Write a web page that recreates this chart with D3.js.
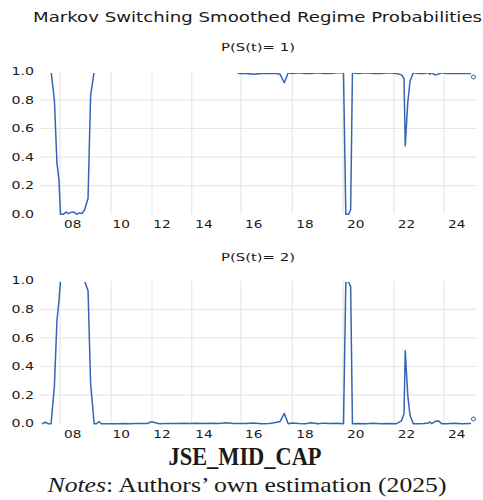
<!DOCTYPE html>
<html>
<head>
<meta charset="utf-8">
<script src="https://cdn.jsdelivr.net/npm/d3@7"></script>
<style>
  body { margin:0; background:#fff; }
  text { font-family:"DejaVu Sans", Verdana, sans-serif; fill:#1a1a1a; }
</style>
</head>
<body>
<svg id="chart"></svg>
<script>
var dates = [
  2007.30, 2007.43, 2007.53, 2007.65, 2007.78, 2007.88, 2007.96, 2008.02,
  2008.12, 2008.24, 2008.33, 2008.45, 2008.55, 2008.65, 2008.75, 2008.86, 2008.96, 2009.10, 2009.20, 2009.34,
  2009.43, 2009.53, 2009.62, 2009.80, 2010.00, 2010.30, 2010.60, 2010.90, 2011.20, 2011.50, 2011.80, 2011.93,
  2012.05, 2012.25, 2012.40, 2012.70, 2013.00, 2013.30, 2013.60, 2013.90, 2014.20, 2014.50, 2014.80, 2015.10,
  2015.40, 2015.70, 2015.95,
  2016.20, 2016.50, 2016.80, 2017.10, 2017.40, 2017.52, 2017.69, 2017.84, 2018.00, 2018.25, 2018.50, 2018.75,
  2019.00, 2019.25, 2019.50, 2019.75, 2020.02, 2020.11, 2020.21, 2020.30, 2020.37,
  2020.60, 2020.90, 2021.20, 2021.50, 2021.80, 2022.10, 2022.30, 2022.40, 2022.45, 2022.55, 2022.64, 2022.77,
  2023.00, 2023.20, 2023.37, 2023.44, 2023.51, 2023.64, 2023.77, 2023.91, 2024.10, 2024.40, 2024.70, 2025.05,
  2025.10, 2025.15
];
var regime1 = [
  1.00, 1.00, 1.00, 1.00, 0.80, 0.36, 0.24, 0.00,
  0.00, 0.015, 0.005, 0.015, 0.015, 0.00, 0.01, 0.005, 0.03, 0.11, 0.83, 1.00,
  1.00, 1.00, 1.00, 1.00, 1.00, 1.00, 1.00, 1.00, 1.00, 1.00, 1.00, 1.00,
  1.00, 1.00, 1.00, 1.00, 1.00, 1.00, 1.00, 0.993, 1.00, 0.993, 1.00, 1.00,
  0.993, 1.00, 0.985,
  0.985, 0.98, 0.985, 0.985, 0.985, 0.98, 0.92, 0.99, 0.985, 0.99, 0.985, 0.985,
  0.99, 0.985, 0.985, 0.99, 0.99, 0.00, 0.00, 0.03, 0.99,
  0.985, 0.99, 0.985, 0.985, 0.99, 0.985, 0.975, 0.95, 0.48, 0.78, 0.93, 0.99,
  0.985, 0.985, 0.99, 0.98, 0.99, 0.975, 0.98, 0.99, 0.985, 0.985, 0.985, 0.985,
  null, 0.96
];
var regime2 = [
  0.00, 0.01, 0.00, 0.00, 0.26, 0.72, 0.86, 1.00,
  1.00, 1.00, 1.00, 1.00, 1.00, 1.00, 1.00, 1.00, 1.00, 0.93, 0.28, 0.00,
  0.00, 0.015, 0.00, 0.00, 0.00, 0.00, 0.002, 0.00, 0.002, 0.002, 0.002, 0.012,
  0.012, 0.003, 0.00, 0.002, 0.002, 0.002, 0.004, 0.002, 0.003, 0.002, 0.004, 0.002,
  0.006, 0.002, 0.002,
  0.002, 0.005, 0.00, 0.002, 0.01, 0.015, 0.072, 0.00, 0.005, 0.002, 0.00, 0.006,
  0.00, 0.004, 0.002, 0.004, 0.00, 0.992, 0.992, 0.96, 0.00,
  0.002, 0.00, 0.003, 0.00, 0.002, 0.00, 0.02, 0.07, 0.51, 0.20, 0.06, 0.00,
  0.00, 0.002, 0.005, 0.012, 0.00, 0.015, 0.02, 0.00, 0.00, 0.003, 0.00, 0.002,
  null, 0.033
];
var yTicks = [0, 0.2, 0.4, 0.6, 0.8, 1.0];
var gridY = [0.2, 0.4, 0.6, 0.8];
var yearTicks = [2008, 2010, 2012, 2014, 2016, 2018, 2020, 2022, 2024];
var yearLabels = ["08", "10", "12", "14", "16", "18", "20", "22", "24"];

var width = 483, height = 500;
var svg = d3.select("#chart").attr("width", width).attr("height", height);

// the date axis is not evenly spaced (fewer observations 2010-2014)
var x = d3.scaleLinear()
  .domain([2007, 2008, 2010, 2012, 2014, 2016, 2018, 2020, 2022, 2024, 2025.25])
  .range([34.5, 60, 111, 152, 191.7, 241, 292.3, 343, 394, 444, 476]);
var plotLeft = 40, plotRight = 476;
var blue = "#3465b4";

function stretch(sel, k) {
  sel.each(function() {
    var len = this.getComputedTextLength();
    d3.select(this).attr("textLength", len * k).attr("lengthAdjust", "spacingAndGlyphs");
  });
}

svg.append("text")
  .attr("x", 257.5).attr("y", 22)
  .attr("text-anchor", "middle")
  .style("font-size", "13.5px")
  .attr("textLength", 449).attr("lengthAdjust", "spacingAndGlyphs")
  .text("Markov Switching Smoothed Regime Probabilities");

function panel(values, title, top, id) {
  var bottom = top + 143;
  var y = d3.scaleLinear().domain([0, 1]).range([bottom, top]);
  var g = svg.append("g");

  g.append("text")
    .attr("x", 258).attr("y", top - 20)
    .attr("text-anchor", "middle")
    .style("font-size", "11px")
    .text(title)
    .call(stretch, 1.35);

  g.selectAll(".hg").data(gridY).enter().append("line")
    .attr("x1", plotLeft).attr("x2", plotRight)
    .attr("y1", function(d) { return y(d); }).attr("y2", function(d) { return y(d); })
    .attr("stroke", "#e8e8e8").attr("stroke-width", 1.2);

  g.selectAll(".vg").data(yearTicks).enter().append("line")
    .attr("x1", function(d) { return x(d); }).attr("x2", function(d) { return x(d); })
    .attr("y1", top).attr("y2", bottom)
    .attr("stroke", "#e8e8e8").attr("stroke-width", 1.2);

  g.selectAll(".yl").data(yTicks).enter().append("text")
    .attr("x", 34).attr("y", function(d) { return y(d); })
    .attr("dy", "0.36em")
    .attr("text-anchor", "end")
    .style("font-size", "10.5px")
    .text(function(d) { return d3.format(".1f")(d); })
    .call(stretch, 1.35);

  g.selectAll(".xl").data(yearTicks).enter().append("text")
    .attr("x", function(d) { return x(d + 0.5); }).attr("y", bottom + 14)
    .attr("text-anchor", "middle")
    .style("font-size", "10.5px")
    .text(function(d, i) { return yearLabels[i]; })
    .call(stretch, 1.3);

  // the line is cut off at the top of the plot, as in the original
  var clipTop = Math.ceil(top + 0.75);
  svg.append("clipPath").attr("id", id)
    .append("rect")
    .attr("x", plotLeft).attr("y", clipTop)
    .attr("width", plotRight - plotLeft).attr("height", bottom + 8 - clipTop);

  var pts = dates.map(function(d, i) { return { t: d, v: values[i] }; });
  var line = d3.line()
    .defined(function(d) { return d.v != null; })
    .x(function(d) { return x(d.t); })
    .y(function(d) { return y(d.v); });

  g.append("path")
    .datum(pts)
    .attr("clip-path", "url(#" + id + ")")
    .attr("fill", "none")
    .attr("stroke", blue)
    .attr("stroke-width", 1.5)
    .attr("stroke-linejoin", "round")
    .attr("d", line);

  var lone = pts.filter(function(d, i) {
    if (d.v == null) return false;
    var prev = i > 0 ? pts[i - 1].v : null;
    var next = i < pts.length - 1 ? pts[i + 1].v : null;
    return prev == null && next == null;
  });
  g.selectAll(".lone").data(lone).enter().append("circle")
    .attr("cx", function(d) { return x(d.t); })
    .attr("cy", function(d) { return y(d.v); })
    .attr("r", 2)
    .attr("fill", "#fff")
    .attr("stroke", blue)
    .attr("stroke-width", 1);
}

panel(regime1, "P(S(t)= 1)", 71.3, "clip1");
panel(regime2, "P(S(t)= 2)", 280.7, "clip2");

svg.append("text")
  .attr("x", 245).attr("y", 465)
  .attr("text-anchor", "middle")
  .style("font-family", "'Liberation Serif', 'DejaVu Serif', serif")
  .style("font-weight", "bold")
  .style("font-size", "25px")
  .attr("textLength", 153).attr("lengthAdjust", "spacingAndGlyphs")
  .text("JSE_MID_CAP");

var notes = svg.append("text")
  .attr("x", 247).attr("y", 491.5)
  .attr("text-anchor", "middle")
  .style("font-family", "'Liberation Serif', 'DejaVu Serif', serif")
  .style("font-size", "21.5px")
  .attr("textLength", 399).attr("lengthAdjust", "spacingAndGlyphs");
notes.append("tspan").style("font-style", "italic").text("Notes");
notes.append("tspan").text(": Authors\u2019 own estimation (2025)");
</script>
</body>
</html>
